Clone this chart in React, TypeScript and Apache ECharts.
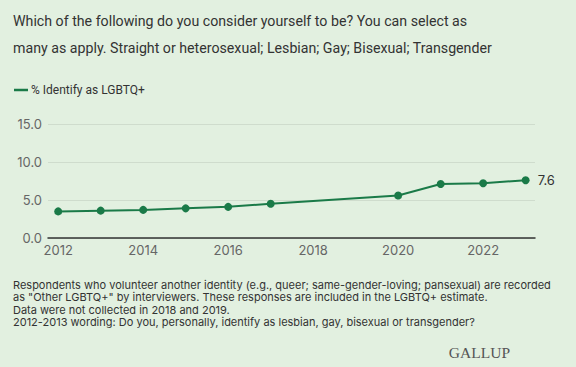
import React, { useEffect, useRef } from "react";
import * as echarts from "echarts";

const years = [2012, 2013, 2014, 2015, 2016, 2017, 2020, 2021, 2022, 2023];
const lgbtq = [3.5, 3.6, 3.7, 3.9, 4.1, 4.5, 5.6, 7.1, 7.2, 7.6];
const xTickLabels = [2012, 2014, 2016, 2018, 2020, 2022];
const seriesName = "% Identify as LGBTQ+";
const titleLines = [
  "Which of the following do you consider yourself to be? You can select as",
  "many as apply. Straight or heterosexual; Lesbian; Gay; Bisexual; Transgender",
];
const footnotes = [
  "Respondents who volunteer another identity (e.g., queer; same-gender-loving; pansexual) are recorded",
  "as \"Other LGBTQ+\" by interviewers. These responses are included in the LGBTQ+ estimate.",
  "Data were not collected in 2018 and 2019.",
  "2012-2013 wording: Do you, personally, identify as lesbian, gay, bisexual or transgender?",
];

const GREEN = "#1a7a48";
const FONT = "Inter, 'Noto Sans', sans-serif";
const TITLE_FONT = "Roboto, 'Noto Sans', sans-serif";

export default function App() {
  const ref = useRef<HTMLDivElement>(null);
  useEffect(() => {
    document.body.style.margin = "0";
    const chart = echarts.init(ref.current!, null, { renderer: "svg" });
    const data = years.map((y, i) => {
      const item: any = { value: [y, lgbtq[i]] };
      if (i === years.length - 1) {
        item.label = {
          show: true,
          position: "right",
          distance: 8,
          formatter: (p: any) => p.value[1].toFixed(1),
          color: "#333",
          fontSize: 13,
          fontFamily: FONT,
        };
      }
      return item;
    });
    chart.setOption({
      animation: false,
      backgroundColor: "#e2f0e0",
      textStyle: { fontFamily: FONT },
      grid: { left: 48, right: 41, top: 124, bottom: 129 },
      legend: {
        left: 9,
        top: 79,
        icon: "rect",
        itemWidth: 14,
        itemHeight: 2.5,
        itemGap: 4,
        textStyle: { color: "#333", fontSize: 12, fontFamily: TITLE_FONT, padding: [0, 0, 0, -2] },
        data: [seriesName],
      },
      xAxis: {
        type: "value",
        min: 2011.76,
        max: 2023.22,
        splitLine: { show: false },
        axisLine: { show: true, lineStyle: { color: "#333", width: 1.5 } },
        axisTick: { show: false },
        axisLabel: {
          customValues: xTickLabels,
          color: "#666",
          fontSize: 13,
          margin: 5,
          fontFamily: FONT,
          formatter: (v: number) => String(v),
        },
      },
      yAxis: {
        type: "value",
        min: 0,
        max: 15,
        interval: 5,
        axisLine: { show: false },
        axisTick: { show: false },
        splitLine: { lineStyle: { color: "#cfdccd", width: 1 } },
        axisLabel: {
          color: "#666",
          fontSize: 13,
          margin: 6,
          fontFamily: FONT,
          formatter: (v: number) => v.toFixed(1),
        },
      },
      series: [
        {
          name: seriesName,
          type: "line",
          data,
          symbol: "circle",
          symbolSize: 8,
          itemStyle: { color: GREEN },
          lineStyle: { color: GREEN, width: 2 },
        },
      ],
      graphic: [
        {
          type: "text",
          left: 13,
          top: 7,
          style: {
            text: titleLines.join("\n"),
            fill: "#333",
            fontSize: 14.2,
            lineHeight: 27,
            fontFamily: TITLE_FONT,
          },
        },
        {
          type: "text",
          left: 13,
          top: 279,
          style: {
            text: footnotes.join("\n"),
            fill: "#333",
            fontSize: 11,
            lineHeight: 12.3,
            fontFamily: FONT,
          },
        },
        {
          type: "text",
          right: 66,
          top: 344,
          style: { text: "GALLUP", fill: "#555", fontSize: 15.5, fontFamily: "'Liberation Serif', 'DejaVu Serif', serif" },
        },
      ],
    });
    return () => chart.dispose();
  }, []);
  return <div ref={ref} style={{ width: 576, height: 367, position: "absolute", left: 0, top: 0 }} />;
}
